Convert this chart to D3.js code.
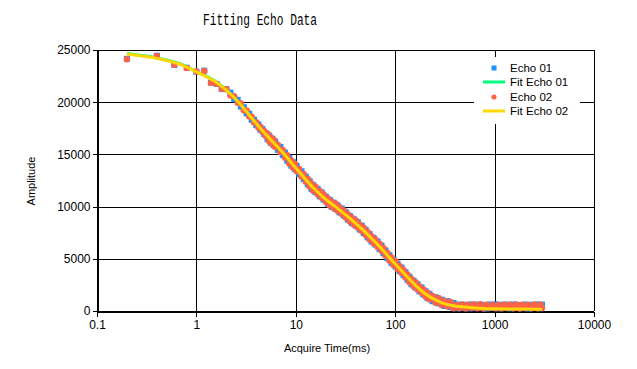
<!DOCTYPE html>
<html><head><meta charset="utf-8">
<script src="https://cdn.jsdelivr.net/npm/d3@7"></script>
<style>body{margin:0;background:#fff}svg{display:block}</style>
</head><body>
<svg id="c" width="637" height="369"></svg>
<script>
const xTicks = [0.1, 1, 10, 100, 1000, 10000];
const xTickLabels = ["0.1", "1", "10", "100", "1000", "10000"];
const yTicks = [0, 5000, 10000, 15000, 20000, 25000];
const yTickLabels = ["0", "5000", "10000", "15000", "20000", "25000"];
const seriesNames = ["Echo 01", "Fit Echo 01", "Echo 02", "Fit Echo 02"];

const echoTimes = [0.2,0.4,0.6,0.8,1.0,1.2,1.4,1.6,1.8,2.0,
2.2,2.4,2.6,2.8,3.0,3.2,3.4,3.6,3.8,4.0,4.2,4.4,4.6,4.8,5.0,
5.2,5.4,5.6,5.8,6.0,6.2,6.6,7.0,7.4,7.8,8.2,8.6,9.0,9.4,9.8,
10.2,10.8,11.4,12.0,12.6,13.2,13.8,14.4,15.0,15.8,16.6,17.4,18.2,19.0,20.0,
21.0,22.0,23.0,24.0,25.2,26.4,27.6,29.0,30.4,31.8,33.4,35.0,36.6,38.4,40.2,
42.0,44.0,46.0,48.2,50.4,52.8,55.2,57.8,60.6,63.4,66.4,69.6,72.8,76.2,79.8,
83.6,87.6,91.8,96.2,100.8,105.6,110.6,115.8,121.2,127.0,133.0,139.2,145.8,152.8,160.0,
167.6,175.6,184.0,192.6,201.8,211.4,221.4,237.4,254.4,272.8,292.4,313.4,336.0,360.2,386.2,
414,443.8,475.8,510,546.8,586.2,628.4,673.6,722.2,774.2,830,889.8,953.8,1022.4,1096,
1175,1259.6,1350.4,1447.6,1551.8,1663.6,1783.4,1911.8,2049.4,2197,2355.2,2524.8,2706.6,2901.6,3000];

const echo01 = [24150,24450,23560,23300,22920,23020,21870,21740,21260,21260,
20920,20290,20230,19580,19520,18930,18900,18310,18330,17810,17870,17370,17450,16950,17020,
16460,16790,16110,16500,15890,16230,15430,15710,14930,15170,14400,14660,13920,14250,13590,
13890,13100,13390,12630,12880,12130,12420,11700,12050,11390,11690,10990,11360,10680,10960,
10280,10630,9970,10380,9770,10100,9440,9810,9140,9460,8750,9100,8420,8790,8170,
8500,7800,8170,7470,7780,7060,7370,6660,7000,6360,6660,5940,6270,5530,5800,
5050,5340,4610,4930,4260,4540,3820,4160,3440,3710,2980,3280,2560,2900,2240,
2560,1880,2250,1570,1890,1240,1630,940,1320,730,1090,480,950,360,770,
260,620,280,600,250,630,270,610,290,590,240,620,300,640,260,
600,280,610,250,630,290,580,270,620,240,600,300,630,260,610];

const echo02 = [24120,24420,23590,23280,22950,23000,21850,21760,21280,21240,
20630,20580,19950,19870,19230,19210,18630,18600,18060,18080,17580,17660,17170,17240,16730,
16980,16270,16620,15980,16400,15720,15930,15200,15430,14670,14920,14140,14430,13730,14100,
13380,13600,12880,13130,12380,12650,11900,12210,11530,11900,11180,11490,10850,11180,10460,
10800,10110,10480,9860,10280,9590,9940,9300,9640,8960,9270,8580,8930,8270,8680,
7990,8300,7660,7970,7280,7580,6850,7170,6490,6860,6150,6440,5760,6030,5300,
5570,4820,5120,4410,4770,4030,4320,3650,3940,3210,3500,2760,3070,2380,2750,
2050,2380,1740,2070,1390,1760,1110,1450,800,1240,580,980,440,860,270,
610,270,630,250,600,290,620,260,640,240,590,300,610,270,580,
250,620,280,600,260,630,240,610,290,590,260,620,270,600,280];

const fitTimes = [0.2,0.4,0.7,1.0,1.5,2.0,2.5,3.0,4.0,5.0,6.0,7.5,10,15,20,25,30,40,50,60,70,85,100,130,160,200,250,300,400,500,700,1000,2000,3000];
const fit01 = [24660,24240,23640,22940,22090,21190,20290,19440,17990,16930,16130,15120,13720,11820,10720,10020,9420,8420,7570,6810,6160,5260,4510,3360,2460,1660,1110,770,490,390,280,220,190,185];
const fit02 = [24620,24200,23600,22900,22050,21150,20250,19400,17950,16900,16100,15100,13700,11800,10700,10000,9400,8400,7550,6800,6150,5250,4500,3350,2450,1650,1100,760,480,380,270,210,180,175];

const colors = {e1:"#1e90ff", f1:"#00ff7f", e2:"#ff6347", f2:"#ffd700"};

const svg = d3.select("#c");
const L=97, R=594, T=50, B=311;
const x = d3.scaleLog().domain([0.1,10000]).range([L,R]);
const y = d3.scaleLinear().domain([0,25000]).range([B,T]);
const font = "'Liberation Sans', Arial, sans-serif";

// grid
const g = svg.append("g").attr("shape-rendering","crispEdges");
g.selectAll(".vx").data(xTicks).join("line")
  .attr("x1",d=>Math.round(x(d))+0.5).attr("x2",d=>Math.round(x(d))+0.5)
  .attr("y1",T).attr("y2",B).attr("stroke","#000");
g.selectAll(".hy").data(yTicks).join("line")
  .attr("x1",L).attr("x2",R).attr("y1",d=>Math.round(y(d))+0.5).attr("y2",d=>Math.round(y(d))+0.5)
  .attr("stroke","#000");

// axes
const xa = svg.append("g").attr("transform",`translate(0,${Math.round(B)+0.5})`)
  .call(d3.axisBottom(x).tickValues(xTicks).tickFormat((d,i)=>xTickLabels[i]).tickSize(5).tickSizeOuter(0).tickPadding(4));
const ya = svg.append("g").attr("transform",`translate(${Math.round(L)+0.5},0)`)
  .call(d3.axisLeft(y).tickValues(yTicks).tickFormat((d,i)=>yTickLabels[i]).tickSize(5).tickSizeOuter(0).tickPadding(2));
[xa,ya].forEach(a=>{
  a.selectAll("path,line").attr("stroke","#000").attr("shape-rendering","crispEdges");
  a.selectAll("text").attr("fill","#000").style("font-family",font).style("font-size","12px");
});

// clip
svg.append("clipPath").attr("id","pc").append("rect").attr("x",L).attr("y",T).attr("width",R-L+1).attr("height",B-T+1);
const plot = svg.append("g").attr("clip-path","url(#pc)");

const line = d3.line().x(d=>x(d[0])).y(d=>y(d[1])).curve(d3.curveMonotoneX);

// Echo 01 squares
plot.append("g").selectAll("rect").data(echoTimes.map((t,i)=>[t,echo01[i]])).join("rect")
  .attr("x",d=>x(d[0])-3).attr("y",d=>y(d[1])-3).attr("width",6).attr("height",6).attr("fill",colors.e1);
// Fit Echo 01
plot.append("path").datum(fitTimes.map((t,i)=>[t,fit01[i]])).attr("d",line)
  .attr("fill","none").attr("stroke",colors.f1).attr("stroke-width",3);
// Echo 02 circles
plot.append("g").selectAll("circle").data(echoTimes.map((t,i)=>[t,echo02[i]])).join("circle")
  .attr("cx",d=>x(d[0])).attr("cy",d=>y(d[1])).attr("r",3.2).attr("fill",colors.e2);
// Fit Echo 02
plot.append("path").datum(fitTimes.map((t,i)=>[t,fit02[i]])).attr("d",line)
  .attr("fill","none").attr("stroke",colors.f2).attr("stroke-width",3);

// legend
const lg = svg.append("g");
lg.append("rect").attr("x",474).attr("y",57).attr("width",106).attr("height",67).attr("fill","#fff");
const rows = [68,82,97,111];
lg.append("rect").attr("x",491.5).attr("y",rows[0]-2.5).attr("width",5).attr("height",5).attr("fill",colors.e1);
lg.append("line").attr("x1",483).attr("x2",505).attr("y1",rows[1]).attr("y2",rows[1]).attr("stroke",colors.f1).attr("stroke-width",3);
lg.append("circle").attr("cx",494).attr("cy",rows[2]).attr("r",2.6).attr("fill",colors.e2);
lg.append("line").attr("x1",483).attr("x2",505).attr("y1",rows[3]).attr("y2",rows[3]).attr("stroke",colors.f2).attr("stroke-width",3);
lg.selectAll("text").data(seriesNames).join("text")
  .attr("x",510).attr("y",(d,i)=>rows[i]+4).text(d=>d)
  .style("font-family",font).style("font-size","11.5px").attr("fill","#000");

// titles
svg.append("text").attr("x",260).attr("y",25).attr("text-anchor","middle")
  .attr("textLength",114).attr("lengthAdjust","spacingAndGlyphs")
  .style("font-family","'Liberation Mono','DejaVu Sans Mono',monospace").style("font-size","16px")
  .attr("fill","#000").text("Fitting Echo Data");
svg.append("text").attr("x",327).attr("y",352).attr("text-anchor","middle")
  .style("font-family",font).style("font-size","11px").attr("fill","#000").text("Acquire Time(ms)");
svg.append("text").attr("transform","translate(35,181) rotate(-90)").attr("text-anchor","middle")
  .style("font-family",font).style("font-size","11px").attr("fill","#000").text("Amplitude");
</script>
</body></html>
